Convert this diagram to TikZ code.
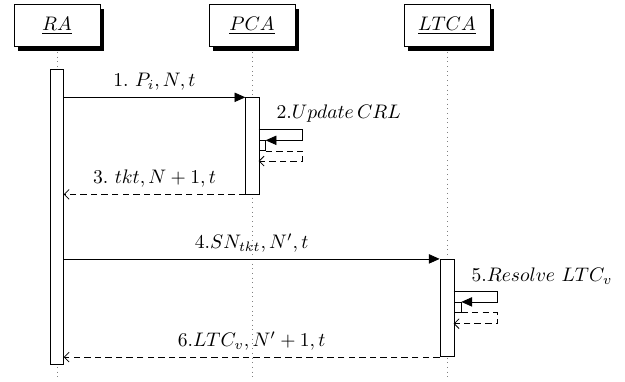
\documentclass[tikz,border=0pt]{standalone}
\usepackage{amsmath}
\usepackage{tikz}
\usetikzlibrary{positioning,arrows.meta,calc,fit,shadows}
\tikzset{
  objbox/.style={draw, fill=white, minimum width=1.54cm, minimum height=0.76cm, drop shadow={shadow xshift=2pt, shadow yshift=-2.2pt, fill=black, opacity=1}},
  lifeline/.style={draw=gray, dotted},
  actbox/.style={draw, fill=white, inner sep=0pt},
  callarr/.style={-{Triangle[length=5.5pt, width=4.8pt]}},
  retarr/.style={-{Straight Barb[length=2.5pt, width=5pt]}, dash pattern=on 3.3pt off 2.1pt},
  msglabel/.style={midway, above}
}

\begin{document}
\begin{tikzpicture}[x=0.01795cm, y=-0.01795cm]
\useasboundingbox (0,0) rectangle (625,381);
% objects and their lifelines
\node[objbox] (ra) at (57,25.5) {\underline{$RA$}};
\node[objbox] (pca) at (252,25.5) {\underline{$PCA$}};
\node[objbox] (ltca) at (447,25.5) {\underline{$LTCA$}};
\coordinate (bottom) at (0,381);
\foreach \obj in {ra,pca,ltca}
  \draw[lifeline] ([yshift=-2.5pt]\obj.south) -- (\obj.south |- bottom);
% activations
\node[actbox, fit={(50,69) (63.3,364)}] (raact) {};
\node[actbox, fit={(245.7,97.7) (259,194)}] (pcaact) {};
\node[actbox, fit={(440,259.3) (454,356.7)}] (ltcaact) {};
\node[actbox, fit={(259,140.7) (265.3,150.7)}] (pcanest) {};
\node[actbox, fit={(454,302.3) (461,312.3)}] (ltcanest) {};
% RA -- PCA
\draw[callarr] (raact.east |- pcaact.north) -- (pcaact.north west) node[msglabel] {1.\ $P_i,N,t$};
\draw[callarr] ($(pcanest.north west)+(0,-10.7)$) -| ($(pcanest.north east)+(37,0)$) -- (pcanest.north east);
\node[anchor=south west] (upd) at ($(pcanest.north west)+(11,-10.7)$) {2.$Update\,CRL$};
\draw[retarr] (pcanest.south east) -- ++(37,0) |- ($(pcanest.south west)+(0,10)$);
\draw[retarr] (pcaact.south west) -- (raact.east |- pcaact.south) node[msglabel] {3.\ $tkt,N+1,t$};
% RA -- LTCA
\draw[callarr] (raact.east |- ltcaact.north) -- (ltcaact.north west) node[msglabel] {4.$SN_{tkt},N',t$};
\draw[callarr] ($(ltcanest.north west)+(0,-10.7)$) -| ($(ltcanest.north east)+(36,0)$) -- (ltcanest.north east);
\node[anchor=south west] (res) at ($(ltcanest.north west)+(11,-10.7)$) {5.$Resolve\ LTC_v$};
\draw[retarr] (ltcanest.south east) -- ++(36,0) |- ($(ltcanest.south west)+(0,11)$);
\draw[retarr] (ltcaact.south west) -- (raact.east |- ltcaact.south) node[msglabel] {6.$LTC_v,N'+1,t$};
\end{tikzpicture}
\end{document}
